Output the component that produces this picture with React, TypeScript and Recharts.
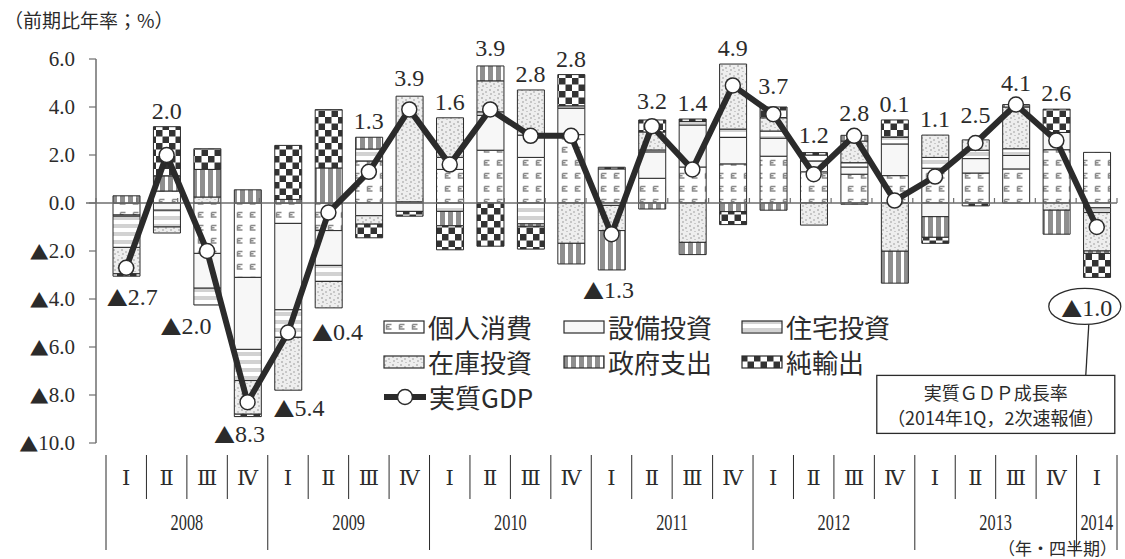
import React from 'react';
import { ComposedChart, Bar, Line, XAxis, YAxis, ReferenceLine, Legend } from 'recharts';

// ---------------- data ----------------
const quarterLabels = ['Ⅰ','Ⅱ','Ⅲ','Ⅳ','Ⅰ','Ⅱ','Ⅲ','Ⅳ','Ⅰ','Ⅱ','Ⅲ','Ⅳ','Ⅰ','Ⅱ','Ⅲ','Ⅳ','Ⅰ','Ⅱ','Ⅲ','Ⅳ','Ⅰ','Ⅱ','Ⅲ','Ⅳ','Ⅰ'];
const yearLabels = ['2008','2008','2008','2008','2009','2009','2009','2009','2010','2010','2010','2010','2011','2011','2011','2011','2012','2012','2012','2012','2013','2013','2013','2013','2014'];

const gdpGrowth = [-2.7, 2.0, -2.0, -8.3, -5.4, -0.4, 1.3, 3.9, 1.6, 3.9, 2.8, 2.8, -1.3, 3.2, 1.4, 4.9, 3.7, 1.2, 2.8, 0.1, 1.1, 2.5, 4.1, 2.6, -1.0];

const consumption = [-0.5, 0.5, -2.1, -3.1, -0.85, -1.15, 1.75, 0.05, 1.4, 2.2, 1.9, 2.85, 1.42, 1.03, 1.5, 1.63, 1.95, 1.3, 1.2, 1.14, 1.45, 1.25, 1.42, 2.22, 2.11];
const capex = [-0.05, -0.3, -1.45, -3.0, -3.6, -1.45, -0.53, -0.35, 0.5, 1.45, 0.93, 1.1, -0.1, 1.1, 1.75, 1.1, 0.75, 0.45, 0.3, 1.32, -0.57, 0.6, 0.56, 0.72, -0.2];
const housing = [-1.3, -0.7, -0.7, -1.3, -1.15, -0.67, 0.5, 0, -0.35, 0.15, -0.87, 0.1, 0, 0.08, 0.15, 0.35, 0.3, 0.25, 0.18, 0.28, 0.45, 0.35, 0.28, 0, -0.2];
const inventory = [-1.1, -0.25, 0.25, -1.4, -2.2, -1.1, -0.35, 4.4, 1.65, 1.29, 1.88, -1.68, -1.05, 0.75, -1.64, 2.71, 0.55, -0.92, 0.9, -2.01, 0.93, 0.43, 1.74, -0.3, -1.6];
const government = [0.3, 0.63, 1.15, 0.55, 0.15, 1.46, 0.49, 0, -0.6, 0.62, -0.1, -0.86, -1.64, -0.25, -0.51, -0.36, -0.3, 0, 0.24, -1.33, -0.86, 0, 0.1, -1.0, -0.1];
const netExports = [-0.1, 2.05, 0.86, -0.1, 2.25, 2.43, -0.57, -0.2, -1.0, -1.8, -0.95, 1.3, 0.07, 0.5, 0.1, -0.54, 0.45, 0.1, -0.05, 0.72, -0.25, -0.12, 0, 0.97, -1.0];

const yTicks = [6, 4, 2, 0, -2, -4, -6, -8, -10];

const series = [
  { key: 'cons', name: '個人消費', fill: 'url(#pCons)', values: consumption },
  { key: 'capex', name: '設備投資', fill: 'url(#pCapex)', values: capex },
  { key: 'house', name: '住宅投資', fill: 'url(#pHouse)', values: housing },
  { key: 'inv', name: '在庫投資', fill: 'url(#pInv)', values: inventory },
  { key: 'gov', name: '政府支出', fill: 'url(#pGov)', values: government },
  { key: 'net', name: '純輸出', fill: 'url(#pNet)', values: netExports },
];

const data = quarterLabels.map((q, i) => {
  const row: any = { cat: yearLabels[i] + q, quarter: q, year: yearLabels[i], gdp: gdpGrowth[i] };
  let pos = 0;
  let neg = 0;
  series.forEach((s) => {
    row[s.key] = s.values[i];
    if (s.values[i] > 0) pos += s.values[i];
    else neg += s.values[i];
  });
  row.posTop = gdpGrowth[i] >= 0 ? pos : null;
  row.negBottom = gdpGrowth[i] < 0 ? neg : null;
  return row;
});

// ---------------- layout / style constants ----------------
const W = 1125;
const H = 559;
const PAD_L = 10;
const SERIF = "'Liberation Serif', 'DejaVu Serif', 'Noto Sans CJK JP', serif";
const JP = "'Noto Sans CJK JP', 'Noto Sans', sans-serif";
const INK = '#2b2b2b';
const AXIS = '#6e6e6e';

// label nudges (pixels): positive labels sit this far above the bar top
const posLabelGap: Record<number, number> = { 7: 10, 9: 10, 13: 11, 16: 13, 17: 10, 18: 14, 21: 17, 22: 14 };
// negative labels: [dx, distance of label centre below bar bottom]
const negLabelNudge: Record<number, [number, number]> = {
  0: [6, 21],
  2: [-21, 21],
  3: [-8, 17],
  4: [11, 18],
  5: [9, 24],
  12: [-3, 20],
  24: [-10, 31],
};

// ---------------- renderers ----------------
const Patterns = () => (
  <defs>
    <pattern id="pCons" patternUnits="userSpaceOnUse" width="13" height="13">
      <rect width="13" height="13" fill="#ffffff" />
      <path d="M3.5 4.5h5M3.5 4.5v4.5h5M3.5 6.8h3" stroke="#8a8a8a" strokeWidth="1.5" fill="none" />
    </pattern>
    <pattern id="pCapex" patternUnits="userSpaceOnUse" width="8" height="8">
      <rect width="8" height="8" fill="#f7f7f7" />
    </pattern>
    <pattern id="pHouse" patternUnits="userSpaceOnUse" width="8" height="8">
      <rect width="8" height="8" fill="#ffffff" />
      <rect width="8" height="4" fill="#d2d2d2" />
    </pattern>
    <pattern id="pInv" patternUnits="userSpaceOnUse" width="8" height="8">
      <rect width="8" height="8" fill="#eeeeee" />
      <rect x="1" y="1" width="2" height="2" fill="#c2c2c2" />
      <rect x="5" y="3" width="2" height="2" fill="#c8c8c8" />
      <rect x="2" y="5" width="2" height="2" fill="#c6c6c6" />
      <rect x="6" y="7" width="2" height="1" fill="#cacaca" />
    </pattern>
    <pattern id="pGov" patternUnits="userSpaceOnUse" width="8" height="8">
      <rect width="8" height="8" fill="#ffffff" />
      <rect width="5" height="8" fill="#8e8e8e" />
    </pattern>
    <pattern id="pNet" patternUnits="userSpaceOnUse" width="13" height="13">
      <rect width="13" height="13" fill="#ffffff" />
      <rect width="6.5" height="6.5" fill="#333333" />
      <rect x="6.5" y="6.5" width="6.5" height="6.5" fill="#333333" />
    </pattern>
  </defs>
);

// number with a Japanese-style black triangle for negatives
const SignedText = ({ v, size, triSize }: { v: number; size: number; triSize: number }) => (
  <>
    {v < 0 && <tspan fontFamily={JP} fontSize={triSize}>▲</tspan>}
    <tspan fontFamily={SERIF} fontSize={size}>{Math.abs(v).toFixed(1)}</tspan>
  </>
);

const YTick = (props: any) => {
  const { x, y, payload } = props;
  return (
    <text x={x} y={y} textAnchor="end" dominantBaseline="central" fill={INK}>
      <SignedText v={payload.value} size={21} triSize={19} />
    </text>
  );
};

const QuarterTick = (props: any) => {
  const { x, y, payload, index, width, visibleTicksCount } = props;
  const half = payload && payload.offset > 0 ? payload.offset : (width - PAD_L) / visibleTicksCount / 2;
  const d = data[index];
  if (!d) return null;
  const left = x - half;
  const isYearStart = index === 0 || data[index - 1].year !== d.year;
  const nq = data.filter((e) => e.year === d.year).length;
  const isLast = index === data.length - 1;
  const top = y + 12;
  return (
    <g>
      <line x1={left} x2={left} y1={top} y2={isYearStart ? y + 107 : y + 56} stroke={INK} strokeWidth={1} />
      <text x={x} y={y + 42} textAnchor="middle" fontFamily={SERIF} fontSize={21} fill={INK}>{d.quarter}</text>
      {isYearStart && (
        <text
          x={0}
          y={0}
          transform={`translate(${left + nq * half}, ${y + 87}) scale(0.68, 1)`}
          textAnchor="middle"
          fontFamily={SERIF}
          fontSize={24}
          fill={INK}
        >
          {d.year}
        </text>
      )}
      {isLast && <line x1={x + half} x2={x + half} y1={top} y2={y + 107} stroke={INK} strokeWidth={1} />}
    </g>
  );
};

const ZeroLine = (props: any) => {
  const { x1, x2, y1 } = props;
  const n = data.length;
  const band = (x2 - x1) / n;
  const marks = [];
  for (let i = 0; i <= n; i++) {
    const xx = x1 + i * band;
    marks.push(<line key={i} x1={xx} x2={xx} y1={y1} y2={y1 - 5} stroke={AXIS} strokeWidth={1.2} />);
  }
  return (
    <g>
      <line x1={x1 - PAD_L} x2={x2} y1={y1} y2={y1} stroke={AXIS} strokeWidth={1.5} />
      {marks}
    </g>
  );
};

const PosLabel = (props: any) => {
  const { x, y, index, value } = props;
  if (value == null || y == null) return null;
  const gap = posLabelGap[index] ?? 8;
  return (
    <text x={x} y={y - gap} textAnchor="middle" fontFamily={SERIF} fontSize={24} fill={INK}>
      {gdpGrowth[index].toFixed(1)}
    </text>
  );
};

const NegLabel = (props: any) => {
  const { x, y, index, value } = props;
  if (value == null || y == null) return null;
  const [dx, dy] = negLabelNudge[index] || [0, 20];
  const cx = x + dx;
  const cy = y + dy;
  const isLast = index === data.length - 1;
  return (
    <g>
      <text x={cx} y={cy} textAnchor="middle" dominantBaseline="central" fill={INK}>
        <SignedText v={gdpGrowth[index]} size={24} triSize={21} />
      </text>
      {isLast && (
        <g>
          <ellipse cx={cx - 2} cy={cy - 2} rx={36} ry={18} fill="none" stroke={INK} strokeWidth={1.3} />
          <line x1={cx + 2} y1={cy + 16} x2={cx - 1} y2={cy + 67} stroke={INK} strokeWidth={1.3} />
          <rect x={cx - 210} y={cy + 67} width={238} height={58} fill="#ffffff" stroke={INK} strokeWidth={1.3} />
          <text x={cx - 91} y={cy + 84} textAnchor="middle" dominantBaseline="central" fontFamily={JP} fontSize={18} fill={INK}>
            実質ＧＤＰ成長率
          </text>
          <text x={cx - 91} y={cy + 109} textAnchor="middle" dominantBaseline="central" fontFamily={JP} fontSize={18} fill={INK}>
            （2014年1Q，2次速報値）
          </text>
        </g>
      )}
    </g>
  );
};

const Swatch = ({ fill }: { fill: string }) => (
  <svg width={42} height={14} style={{ display: 'block' }}>
    <rect x={1} y={1} width={40} height={12} fill={fill} stroke={INK} strokeWidth={1.2} />
  </svg>
);

const LegendBox = () => {
  const cell = (s: any) => (
    <div key={s.key} style={{ display: 'flex', alignItems: 'center', height: 35 }}>
      <Swatch fill={s.fill} />
      <span style={{ marginLeft: 3, fontFamily: JP, fontSize: 26, color: INK, lineHeight: '35px' }}>{s.name}</span>
    </div>
  );
  return (
    <div style={{ display: 'grid', gridTemplateColumns: '180px 178px 180px' }}>
      {series.map(cell)}
      <div style={{ display: 'flex', alignItems: 'center', height: 35 }}>
        <svg width={44} height={20} style={{ display: 'block' }}>
          <line x1={1} x2={43} y1={10} y2={10} stroke={INK} strokeWidth={6} />
          <circle cx={22} cy={10} r={7.5} fill="#ffffff" stroke={INK} strokeWidth={1.5} />
        </svg>
        <span style={{ marginLeft: 2, fontFamily: JP, fontSize: 26, color: INK, lineHeight: '35px' }}>実質GDP</span>
      </div>
    </div>
  );
};

export default function App() {
  return (
    <div style={{ position: 'absolute', left: 0, top: 0, width: W, height: H, background: '#ffffff' }}>
      <div style={{ position: 'absolute', left: 4, top: 8, fontFamily: JP, fontSize: 19, color: INK, lineHeight: '24px', whiteSpace: 'nowrap' }}>
        （前期比年率；%）
      </div>
      <div style={{ position: 'absolute', right: 8, top: 536, fontFamily: JP, fontSize: 17, color: INK, lineHeight: '24px', whiteSpace: 'nowrap' }}>
        （年・四半期）
      </div>
      <ComposedChart
        width={W}
        height={H}
        data={data}
        stackOffset="sign"
        margin={{ top: 59, right: 8, bottom: 0, left: 0 }}
      >
        <Patterns />
        <XAxis
          dataKey="cat"
          padding={{ left: PAD_L, right: 0 }}
          axisLine={false}
          tickLine={false}
          tickSize={0}
          tickMargin={0}
          interval={0}
          height={116}
          tick={<QuarterTick />}
        />
        <YAxis
          domain={[-10, 6]}
          ticks={yTicks}
          interval={0}
          width={96}
          axisLine={{ stroke: AXIS, strokeWidth: 1.5 }}
          tickLine={{ stroke: AXIS, strokeWidth: 1.2 }}
          tickSize={7}
          tickMargin={14}
          tick={<YTick />}
        />
        <ReferenceLine y={0} shape={<ZeroLine />} />
        {series.map((s) => (
          <Bar
            key={s.key}
            dataKey={s.key}
            name={s.name}
            stackId="a"
            fill={s.fill}
            stroke={INK}
            strokeWidth={1}
            barSize={27}
            isAnimationActive={false}
          />
        ))}
        <Line
          dataKey="gdp"
          name="実質GDP"
          stroke={INK}
          strokeWidth={6}
          dot={{ r: 7.5, fill: '#ffffff', stroke: INK, strokeWidth: 1.5 }}
          activeDot={false}
          isAnimationActive={false}
        />
        <Line dataKey="posTop" stroke="none" dot={false} activeDot={false} legendType="none" isAnimationActive={false} label={<PosLabel />} />
        <Line dataKey="negBottom" stroke="none" dot={false} activeDot={false} legendType="none" isAnimationActive={false} label={<NegLabel />} />
        <Legend
          layout="horizontal"
          verticalAlign="middle"
          align="center"
          content={<LegendBox />}
          wrapperStyle={{ position: 'absolute', left: 383, top: 309, width: 560, height: 110 }}
        />
      </ComposedChart>
    </div>
  );
}
